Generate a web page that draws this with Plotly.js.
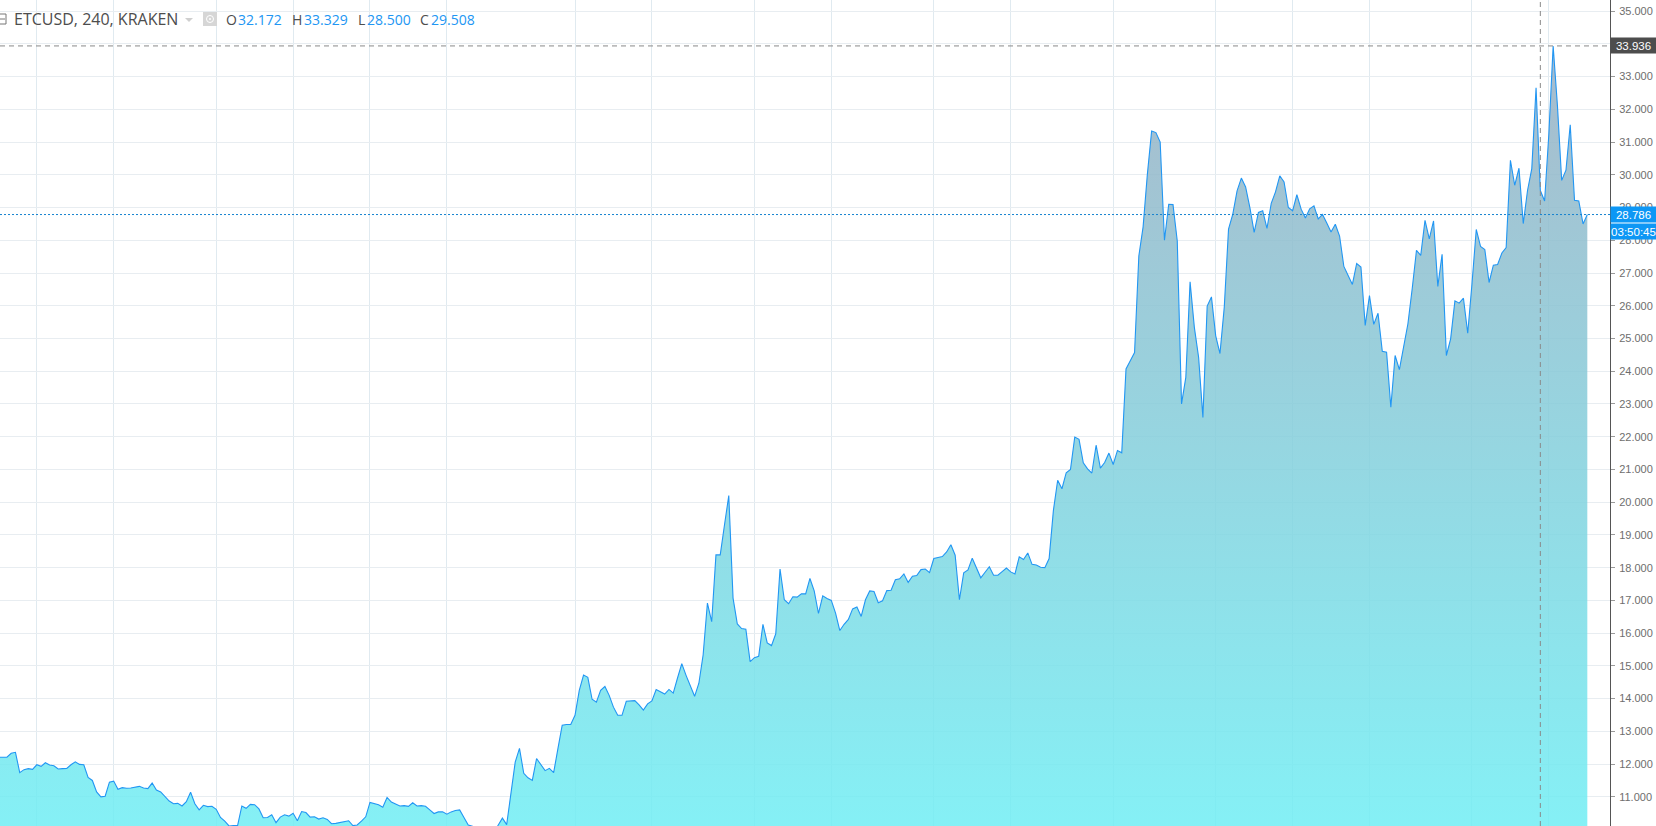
<!DOCTYPE html>
<html>
<head>
<meta charset="utf-8">
<script src="https://cdn.plot.ly/plotly-3.0.1.min.js"></script>
<style>html,body{margin:0;padding:0;background:#fff;overflow:hidden}#chart{width:1656px;height:826px}</style>
</head>
<body>
<div id="chart"></div>
<script>
const closes = [
12.21,12.21,12.21,12.33,12.36,11.74,11.83,11.86,11.84,11.98,
11.93,12.04,11.97,11.95,11.85,11.86,11.87,11.98,12.07,11.99,
11.98,11.59,11.5,11.15,11.0,11.02,11.45,11.48,11.23,11.28,
11.26,11.27,11.3,11.32,11.27,11.25,11.42,11.21,11.15,11.0,
10.87,10.79,10.8,10.72,10.85,11.14,10.79,10.6,10.74,10.7,
10.71,10.62,10.37,10.26,10.11,10.12,10.12,10.72,10.65,10.77,
10.76,10.63,10.36,10.37,10.45,10.21,10.38,10.45,10.41,10.5,
10.27,10.55,10.52,10.38,10.39,10.32,10.36,10.31,10.18,10.19,
10.21,10.24,10.27,10.12,10.14,10.26,10.39,10.83,10.8,10.76,
10.68,10.98,10.84,10.77,10.72,10.73,10.71,10.82,10.72,10.73,
10.71,10.6,10.49,10.54,10.54,10.47,10.54,10.58,10.6,10.37,
10.14,10.1,10.0,9.9,9.85,9.9,9.95,10.13,10.35,10.15,
11.1,12.06,12.48,11.72,11.58,11.5,12.17,11.99,11.8,11.87,
11.74,12.47,13.19,13.21,13.21,13.49,14.25,14.72,14.65,13.98,
13.89,14.25,14.37,14.1,13.74,13.49,13.49,13.92,13.94,13.94,
13.81,13.65,13.84,13.93,14.28,14.22,14.14,14.28,14.17,14.63,
15.07,14.71,14.4,14.07,14.47,15.34,16.92,16.35,18.39,18.39,
19.31,20.2,17.07,16.28,16.14,16.12,15.13,15.25,15.29,16.27,
15.7,15.62,15.98,17.96,17.02,16.9,17.11,17.1,17.2,17.2,
17.67,17.29,16.6,17.14,17.06,17.0,16.61,16.08,16.27,16.42,
16.74,16.8,16.51,17.02,17.29,17.27,16.93,16.99,17.3,17.31,
17.63,17.66,17.81,17.55,17.74,17.76,17.94,17.96,17.85,18.28,
18.31,18.34,18.48,18.7,18.38,17.02,17.84,17.93,18.29,17.96,
17.69,17.86,18.03,17.77,17.77,17.88,17.99,17.87,17.81,18.33,
18.25,18.45,18.1,18.08,18.01,18.0,18.28,19.75,20.67,20.41,
20.9,21.0,21.99,21.92,21.2,21.02,20.89,21.74,21.04,21.21,
21.5,21.15,21.58,21.51,24.07,24.32,24.57,27.52,28.41,30.02,
31.34,31.29,31.0,28.0,29.1,29.09,27.98,23.0,23.81,26.73,
25.34,24.42,22.59,25.99,26.27,25.08,24.54,25.95,28.34,28.8,
29.51,29.9,29.63,29.0,28.24,28.85,28.9,28.36,29.13,29.48,
29.97,29.78,29.0,28.9,29.39,28.95,28.68,28.96,29.05,28.65,
28.79,28.53,28.25,28.49,28.13,27.2,26.93,26.65,27.29,27.18,
25.4,26.31,25.43,25.77,24.61,24.58,22.9,24.48,24.05,24.73,
25.45,26.52,27.69,27.54,28.61,28.04,28.59,26.59,27.57,24.48,
24.99,26.15,26.08,26.23,25.16,26.67,28.33,27.81,27.72,26.71,
27.24,27.26,27.61,27.78,30.44,29.68,30.2,28.51,29.52,30.19,
32.66,29.52,29.2,31.26,33.936,32.12,29.83,30.14,31.53,29.22,
29.2,28.5,28.786
];
const barIndex = closes.map((_, i) => i);
const gridBars = [9,27,51,69,87,105,135,153,177,195,219,237,261,285,303,321,345,363];
const priceTicks = [11,12,13,14,15,16,17,18,19,20,21,22,23,24,25,26,27,28,29,30,31,32,33,34,35];
const highPrice = 33.936;
const lastPrice = 28.786;
const crosshairBar = 361;
const countdown = "03:50:45";
const symbol = "ETCUSD, 240, KRAKEN";
const ohlcLabels = ["O","H","L","C"];
const ohlcValues = ["32.172","33.329","28.500","29.508"];

const W = 1610, H = 826;
const px = x => x / W, py = y => 1 - y / H;
const BLUE = "#2196f3";
const GREY = "#4d4d4d";
const legendFont = "'Open Sans', sans-serif";
const axisFont = "'Liberation Sans', Arial, sans-serif";

const textAt = (x, text, color, size) => ({
  xref:"paper", yref:"paper", x:px(x), y:py(19), xanchor:"left", yanchor:"middle",
  text, showarrow:false, font:{family:legendFont, size, color}, borderpad:0
});
const pill = (y, yshift, text, bg, size) => ({
  xref:"paper", yref:"y", x:1, y, yshift, xanchor:"left", yanchor:"middle",
  text, showarrow:false, bgcolor:bg, width:45, height:15, borderpad:0, align:"center",
  font:{family:axisFont, size, color:"#ffffff"}
});

const labelX = [225,291,357,419];
const valueX = [236.5,302.5,366,430];
const annotations = [textAt(13, symbol, GREY, 16)];
ohlcLabels.forEach((l, i) => {
  annotations.push(textAt(labelX[i], l, GREY, 14));
  annotations.push(textAt(valueX[i], ohlcValues[i], BLUE, 14));
});
annotations.push(pill(highPrice, 0, highPrice.toFixed(3), "#4d4d4d", 11.5));
annotations.push(pill(lastPrice, 0, lastPrice.toFixed(3), "#0d97f5", 11.5));
annotations.push(pill(lastPrice, -17, countdown, "#0d97f5", 11.5));

const shapes = [
  {type:"line", xref:"paper", yref:"y", x0:0, x1:1, y0:highPrice, y1:highPrice, layer:"above",
   line:{color:"#8a8a8a", width:1, dash:"5px,4px"}},
  {type:"line", xref:"paper", yref:"y", x0:0, x1:1, y0:lastPrice, y1:lastPrice, layer:"above",
   line:{color:"#1583cf", width:1, dash:"2px,2px"}},
  {type:"line", xref:"x", yref:"paper", x0:crosshairBar, x1:crosshairBar, y0:0, y1:1, layer:"above",
   line:{color:"#8a8a8a", width:1, dash:"5px,4px"}},
  // legend collapse box (left edge)
  {type:"rect", xref:"paper", yref:"paper", x0:px(-3), x1:px(6), y0:py(24), y1:py(14), layer:"above",
   line:{color:"#777", width:1}, fillcolor:"rgba(0,0,0,0)"},
  {type:"line", xref:"paper", yref:"paper", x0:px(0), x1:px(5), y0:py(19), y1:py(19), layer:"above",
   line:{color:"#777", width:1}},
  // dropdown caret
  {type:"path", xref:"paper", yref:"paper", layer:"above",
   path:`M ${px(185)} ${py(18)} L ${px(193)} ${py(18)} L ${px(189)} ${py(22)} Z`,
   fillcolor:"#cfcfcf", line:{width:0}},
  // eye icon
  {type:"rect", xref:"paper", yref:"paper", x0:px(203), x1:px(217), y0:py(26), y1:py(12), layer:"above",
   fillcolor:"#d6d6d6", line:{width:0}},
  {type:"circle", xref:"paper", yref:"paper", x0:px(206.5), x1:px(213.5), y0:py(22.5), y1:py(15.5), layer:"above",
   fillcolor:"rgba(0,0,0,0)", line:{color:"#ffffff", width:1}},
  {type:"circle", xref:"paper", yref:"paper", x0:px(209), x1:px(211), y0:py(20), y1:py(18), layer:"above",
   fillcolor:"#ffffff", line:{width:0}}
];

const trace = {
  type:"scatter", mode:"lines", x:barIndex, y:closes,
  line:{color:BLUE, width:1.1, shape:"linear"},
  fill:"tozeroy",
  fillgradient:{type:"vertical", start:34, stop:10,
    colorscale:[[0,"rgba(153,174,194,0.85)"],[1,"rgba(111,238,244,0.85)"]]},
  hoverinfo:"skip"
};

const layout = {
  width:1656, height:826,
  margin:{l:0, r:46, t:0, b:0, pad:0},
  paper_bgcolor:"#ffffff", plot_bgcolor:"#ffffff",
  showlegend:false,
  xaxis:{range:[0.38,377.31], tickmode:"array", tickvals:gridBars, showticklabels:false, ticks:"",
    showgrid:true, gridcolor:"#e0eaf0", gridwidth:1, zeroline:false, showline:false, fixedrange:true},
  yaxis:{side:"right", range:[10.109,35.339], tickmode:"array", tickvals:priceTicks,
    ticktext:priceTicks.map(v => v.toFixed(3)), ticks:"outside", ticklen:4, tickcolor:"#9a9a9a", tickwidth:1,
    ticklabelstandoff:2,
    tickfont:{family:axisFont, size:11, color:"#6e6e6e"},
    showgrid:true, gridcolor:"#e8edf1", gridwidth:1, zeroline:false,
    showline:true, linecolor:"#555555", linewidth:1, fixedrange:true, automargin:false},
  annotations, shapes
};
Plotly.newPlot("chart", [trace], layout, {displayModeBar:false, staticPlot:true});
</script>
</body>
</html>
